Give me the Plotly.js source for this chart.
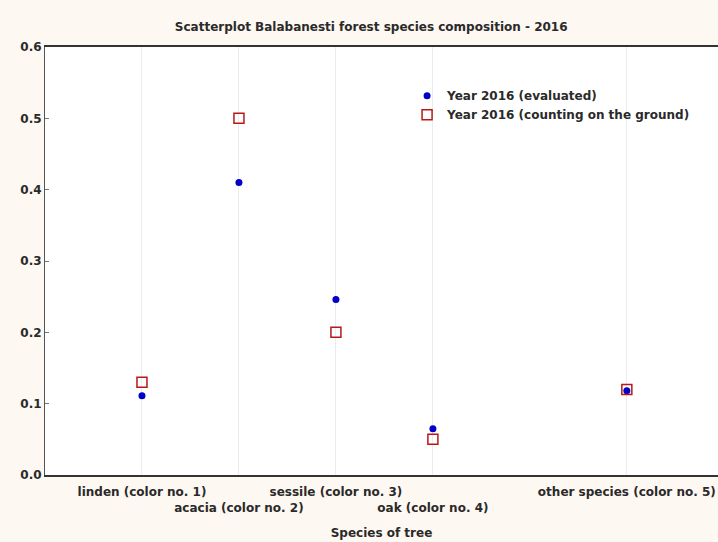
<!DOCTYPE html>
<html><head><meta charset="utf-8">
<script src="https://cdn.plot.ly/plotly-3.0.1.min.js"></script>
<style>body{margin:0;padding:0;}#chart{width:718px;height:542px;}</style>
</head><body><div id="chart"></div>
<script>
const positions = [1, 2, 3, 4, 6];
const categoryLabels = ["linden (color no. 1)", "acacia (color no. 2)", "sessile (color no. 3)", "oak (color no. 4)", "other species (color no. 5)"];
const evaluated = [0.111, 0.41, 0.246, 0.065, 0.118];
const ground = [0.13, 0.50, 0.20, 0.05, 0.12];
const yTicks = [0, 0.1, 0.2, 0.3, 0.4, 0.5, 0.6];

const xTickText = categoryLabels.map((t, i) => i % 2 === 1 ? "<br><b>" + t + "</b>" : "<b>" + t + "</b>");
const yTickText = yTicks.map(v => "<b>" + v.toFixed(1) + "</b>");
const fam = "DejaVu Sans, sans-serif";
const txt = {family: fam, size: 12, color: "#2a2a2a"};

const traces = [
  {x: positions, y: evaluated, mode: "markers", type: "scatter", name: "<b>Year 2016 (evaluated)</b>",
   marker: {symbol: "circle", size: 7, color: "#0000c8"}},
  {x: positions, y: ground, mode: "markers", type: "scatter", name: "<b>Year 2016 (counting on the ground)</b>",
   marker: {symbol: "square-open", size: 10, color: "#b81818", line: {width: 1.5, color: "#b81818"}}}
];

const layout = {
  width: 718, height: 542,
  paper_bgcolor: "#fdf8f1", plot_bgcolor: "#ffffff",
  margin: {l: 45, r: 0, t: 47, b: 67},
  font: txt,
  title: {text: "<b>Scatterplot Balabanesti forest species composition - 2016</b>", x: 0.517, xanchor: "center", y: 0.95, yanchor: "middle", font: txt},
  xaxis: {
    range: [0, 6.94], tickvals: positions, ticktext: xTickText, tickangle: 0,
    showgrid: true, gridcolor: "#ececec", gridwidth: 1, zeroline: false,
    showline: true, linecolor: "#333", linewidth: 2, mirror: true,
    ticks: "outside", ticklen: 5, tickcolor: "rgba(0,0,0,0)", tickfont: txt,
    title: {text: "<b>Species of tree</b>", font: txt, standoff: 15}
  },
  yaxis: {
    range: [0, 0.6], tickvals: yTicks, ticktext: yTickText,
    showgrid: false, zeroline: false,
    showline: true, linecolor: "#555", linewidth: 1,
    ticks: "inside", ticklen: 4, tickcolor: "#777",
    tickfont: txt
  },
  legend: {x: 0.538, y: 0.92, xanchor: "left", yanchor: "top", bgcolor: "rgba(0,0,0,0)",
    font: txt, tracegroupgap: 0},
  showlegend: true
};
Plotly.newPlot("chart", traces, layout, {displayModeBar: false, staticPlot: true});
</script></body></html>
